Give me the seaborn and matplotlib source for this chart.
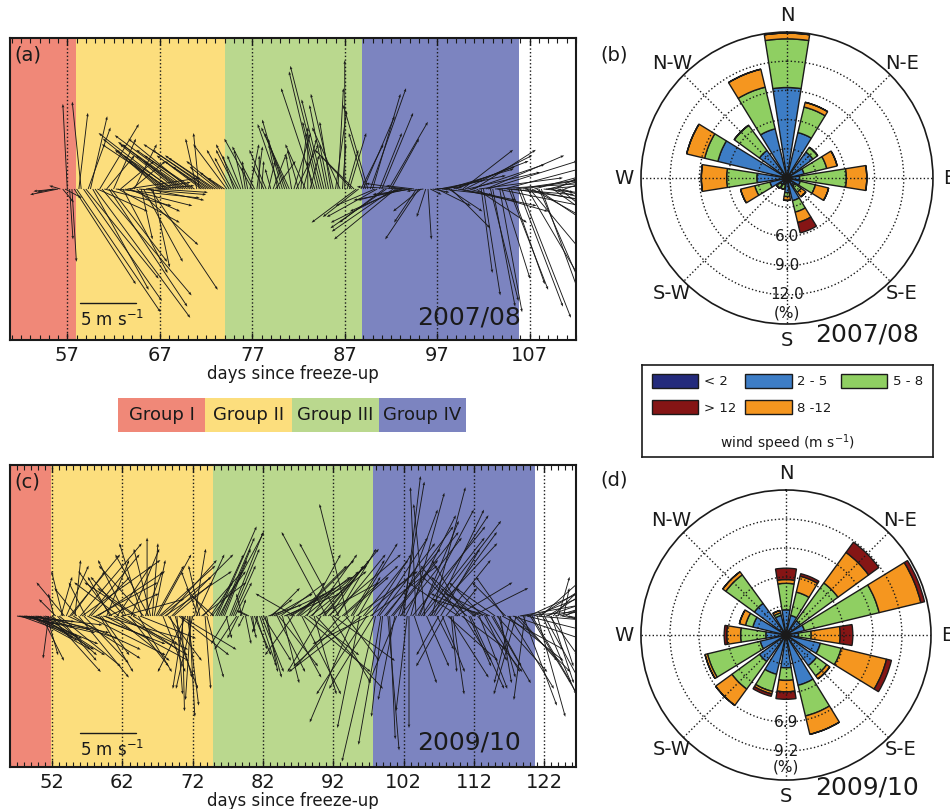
import numpy as np
import seaborn as sns
import matplotlib.pyplot as plt
from matplotlib.patches import Patch
from matplotlib.ticker import MultipleLocator

sns.set_theme(style="white")
plt.rcParams['font.family'] = ['DejaVu Sans']
plt.rcParams.update({'text.color': 'k', 'axes.labelcolor': 'k',
                     'xtick.color': 'k', 'ytick.color': 'k'})

# ---- groups ----
group_names = ["Group I", "Group II", "Group III", "Group IV"]
group_colors = ["#f08878", "#fcde7d", "#bad88e", "#7c84c0"]

# ---- 2007/08 stick data (day, u, v in m/s) ----
edges_a = [50.8, 57.9, 74.0, 88.9, 105.8]
ticks_a = [57, 67, 77, 87, 97, 107]
xlim_a = (50.8, 112.0)
days_a = [55.5, 56.0, 56.5, 57.0, 57.5, 58.0, 58.5, 59.0, 59.5, 60.0,
          60.5, 61.0, 61.5, 62.0, 62.5, 63.0, 63.5, 64.0, 64.5, 65.0,
          65.5, 66.0, 66.5, 67.0, 67.5, 68.0, 68.5, 69.0, 69.5, 70.0,
          70.5, 71.0, 71.5, 72.0, 72.5, 73.0, 73.5, 74.0, 74.5, 75.0,
          75.5, 76.0, 76.5, 77.0, 77.5, 78.0, 78.5, 79.0, 79.5, 80.0,
          80.5, 81.0, 81.5, 82.0, 82.5, 83.0, 83.5, 84.0, 84.5, 85.0,
          85.5, 86.0, 86.5, 87.0, 87.5, 88.0, 88.5, 89.0, 89.5, 90.0,
          90.5, 91.0, 91.5, 92.0, 92.5, 93.0, 93.5, 94.0, 94.5, 95.0,
          95.5, 96.0, 96.5, 97.0, 97.5, 98.0, 98.5, 99.0, 99.5, 100.0,
          100.5, 101.0, 101.5, 102.0, 102.5, 103.0, 103.5, 104.0, 104.5, 105.0,
          105.5, 106.0, 106.5, 107.0, 107.5, 108.0, 108.5, 109.0, 109.5, 110.0,
          110.5]
u_a = [-1.5, -2.5, 1.0, -0.4, 0.4, 7.5, -0.8, 6.5, 1.5, 8.5,
       3.5, 6.0, 7.0, 2.0, 5.5, 4.0, 6.5, 3.0, 5.5, 1.0,
       4.0, 6.0, 3.5, -4.0, -5.5, -6.0, -4.5, -5.0, -3.5, -6.5,
       -5.0, -1.0, -4.0, -3.0, -6.0, -4.5, -3.0, -1.5, -2.0, -1.0,
       -2.0, -0.8, -0.5, -2.5, 0.5, 0.2, -1.5, -0.5, 1.8, -2.0,
       -1.5, -2.5, 1.5, -1.0, 1.2, 0.0, -0.5, -2.5, -2.8, -1.5,
       -1.0, 1.0, -2.5, 0.0, 1.5, -3.5, -3.2, 2.8, -2.2, 2.5,
       -4.5, 2.8, -5.0, 2.5, -5.5, -4.5, -3.5, -5.0, -2.5, -3.0,
       -1.5, 0.3, 1.5, 3.0, 4.5, 6.0, 3.5, 6.5, 5.0, 6.0,
       7.0, 5.5, 7.5, 1.5, 8.0, 2.0, 7.5, 2.5, 6.0, 3.0,
       5.5, 4.5, 6.0, 5.0, 5.5, 3.5, 5.0, 4.0, 3.5, 2.0,
       1.0]
v_a = [-0.3, -0.5, -1.2, 7.6, -6.5, -11.0, 7.8, -8.0, 6.5, -11.5,
       5.8, -1.5, -10.5, 4.5, -3.0, -7.5, 1.0, 2.5, -5.0, -4.5,
       0.6, -9.0, 0.3, 3.5, 4.5, 4.0, 3.0, 4.0, 2.5, 4.8,
       3.5, 4.5, 3.0, 2.0, 4.0, 3.0, 2.5, 1.0, 3.5, 3.0,
       4.0, 3.5, 2.5, 4.5, 3.8, 2.5, 3.5, 1.8, 2.5, 5.8,
       4.5, 5.5, 5.0, 3.5, 4.5, 5.5, 2.5, 10.5, 11.0, 7.5,
       6.0, 7.0, 5.5, 11.5, 5.0, 3.5, -2.5, 6.5, 7.5, 8.5,
       -2.5, 6.8, -3.5, 4.5, -4.5, -2.0, 0.5, -1.0, 0.3, -4.5,
       -0.2, -4.5, -0.3, -1.5, -0.5, 1.8, -3.5, 2.5, -1.0, 3.0,
       -2.0, 3.5, 1.0, -9.5, 2.5, -10.5, -1.5, -8.0, -0.5, -8.5,
       0.8, -11.5, -1.2, -6.0, 1.5, -8.0, -0.5, 1.0, -2.5, -0.5,
       -0.3]
# quarter-day records in between
days_a2 = [55.75, 56.25, 56.75, 57.25, 57.75, 58.25, 58.75, 59.25, 59.75, 60.25,
           60.75, 61.25, 61.75, 62.25, 62.75, 63.25, 63.75, 64.25, 64.75, 65.25,
           65.75, 66.25, 66.75, 67.25, 67.75, 68.25, 68.75, 69.25, 69.75, 70.25,
           70.75, 71.25, 71.75, 72.25, 72.75, 73.25, 73.75, 74.25, 74.75, 75.25,
           75.75, 76.25, 76.75, 77.25, 77.75, 78.25, 78.75, 79.25, 79.75, 80.25,
           80.75, 81.25, 81.75, 82.25, 82.75, 83.25, 83.75, 84.25, 84.75, 85.25,
           85.75, 86.25, 86.75, 87.25, 87.75, 88.25, 88.75, 89.25, 89.75, 90.25,
           90.75, 91.25, 91.75, 92.25, 92.75, 93.25, 93.75, 94.25, 94.75, 95.25,
           95.75, 96.25, 96.75, 97.25, 97.75, 98.25, 98.75, 99.25, 99.75, 100.25,
           100.75, 101.25, 101.75, 102.25, 102.75, 103.25, 103.75, 104.25, 104.75, 105.25,
           105.75, 106.25, 106.75, 107.25, 107.75, 108.25, 108.75, 109.25, 109.75, 110.25,
           110.75]
u_a2 = [-2.0, -1.0, 1.5, 0.3, 5.5, 0.8, 7.0, 2.0, 5.0, 4.5,
        8.0, 2.5, 5.0, 7.5, 3.0, 6.0, 4.5, 2.0, 6.0, 3.5,
        5.0, 1.5, 4.5, -3.0, -4.5, -6.5, -5.0, -4.0, -6.0, -5.5,
        -4.5, -0.5, -3.5, -5.0, -4.0, -2.5, -2.0, -3.0, -1.5, -1.8,
        -1.2, -0.3, 0.8, -2.0, 0.0, -1.0, 0.6, 1.2, -0.8, -1.8,
        -2.0, -0.5, 2.0, 0.5, -1.8, 0.8, -3.0, -1.5, -2.0, -0.8,
        -2.0, 0.5, 0.3, 1.0, -2.8, -4.0, 2.0, -1.5, 3.2, -3.5,
        2.0, -4.0, 3.5, -5.5, -6.0, -4.0, -4.5, -3.5, -2.0, -2.5,
        -0.8, 1.0, 2.5, 4.0, 5.5, 3.0, 5.5, 7.0, 4.5, 6.5,
        6.5, 4.5, 1.0, 7.0, 2.5, 8.0, 2.0, 7.5, 3.5, 6.5,
        4.0, 6.5, 5.0, 4.5, 6.0, 4.0, 5.5, 3.5, 3.0, 2.5,
        1.5]
v_a2 = [-0.2, 0.3, -0.8, -4.5, -8.5, 6.8, -10.0, 5.5, -9.0, -2.0,
        -9.5, 3.0, -6.5, -0.8, 2.5, -1.5, -2.0, 4.0, -0.5, -6.5,
        -1.0, -7.0, -0.3, 2.5, 3.5, 5.0, 4.0, 3.0, 4.2, 4.5,
        3.0, 5.0, 2.5, 3.5, 2.8, 2.0, 1.5, 4.0, 2.8, 3.5,
        3.0, 2.0, 4.0, 3.8, 3.0, 2.0, 2.5, 3.2, 4.0, 6.2,
        5.0, 3.0, 4.0, 5.0, 4.0, 3.0, 9.0, 6.0, 8.0, 4.0,
        8.5, 9.0, 4.0, 3.5, 3.0, -3.0, 4.0, 5.0, 9.0, -1.5,
        5.0, -3.0, 6.0, -3.8, -3.0, -1.0, 0.2, -0.5, -3.0, -2.0,
        -2.5, -0.5, 0.2, 0.8, 1.2, -2.0, 2.0, -1.5, 3.5, 1.5,
        2.2, -3.0, -7.5, 3.0, -10.0, 0.5, -11.0, 2.0, -9.0, -1.0,
        -10.5, 1.0, -8.5, -2.5, -4.0, -11.0, 0.5, -1.0, 1.5, -2.0,
        0.5]

# ---- 2009/10 stick data ----
edges_c = [46.0, 51.8, 74.9, 97.7, 120.6]
ticks_c = [52, 62, 72, 82, 92, 102, 112, 122]
xlim_c = (46.0, 126.5)
days_c = [47.0, 47.5, 48.0, 48.5, 49.0, 49.5, 50.0, 50.5, 51.0, 51.5,
          52.0, 52.5, 53.0, 53.5, 54.0, 54.5, 55.0, 55.5, 56.0, 56.5,
          57.0, 57.5, 58.0, 58.5, 59.0, 59.5, 60.0, 60.5, 61.0, 61.5,
          62.0, 62.5, 63.0, 63.5, 64.0, 64.5, 65.0, 65.5, 66.0, 66.5,
          67.0, 67.5, 68.0, 68.5, 69.0, 69.5, 70.0, 70.5, 71.0, 71.5,
          72.0, 72.5, 73.0, 73.5, 74.0, 74.5, 75.0, 75.5, 76.0, 76.5,
          77.0, 77.5, 78.0, 78.5, 79.0, 79.5, 80.0, 80.5, 81.0, 81.5,
          82.0, 82.5, 83.0, 83.5, 84.0, 84.5, 85.0, 85.5, 86.0, 86.5,
          87.0, 87.5, 88.0, 88.5, 89.0, 89.5, 90.0, 90.5, 91.0, 91.5,
          92.0, 92.5, 93.0, 93.5, 94.0, 94.5, 95.0, 95.5, 96.0, 96.5,
          97.0, 97.5, 98.0, 98.5, 99.0, 99.5, 100.0, 100.5, 101.0, 101.5,
          102.0, 102.5, 103.0, 103.5, 104.0, 104.5, 105.0, 105.5, 106.0, 106.5,
          107.0, 107.5, 108.0, 108.5, 109.0, 109.5, 110.0, 110.5, 111.0, 111.5,
          112.0, 112.5, 113.0, 113.5, 114.0, 114.5, 115.0, 115.5, 116.0, 116.5,
          117.0, 117.5, 118.0, 118.5, 119.0, 119.5, 120.0, 120.5, 121.0, 121.5,
          122.0, 122.5, 123.0, 123.5, 124.0, 124.5, 125.0, 125.5]
u_c = [6.5, 5.5, 7.0, 4.5, 6.0, 3.5, 5.0, 2.0, 6.5, -0.5,
       4.0, -1.5, 5.5, -1.0, 2.0, 4.5, 6.0, -2.0, 5.5, 4.0,
       7.0, 3.5, 5.0, 6.0, 2.5, 7.5, 4.5, -3.0, 6.5, -4.0,
       5.5, -2.5, 3.5, 4.0, -3.5, 5.0, -4.0, 0.0, -1.5, 1.0,
       3.0, 4.5, 6.0, 3.0, 5.5, 1.5, 4.5, 0.2, -2.5, 0.5,
       -1.5, 2.5, -1.0, 3.5, 1.5, 2.0, -2.0, 3.5, 3.0, 2.0,
       -1.5, 2.5, 1.5, -1.0, -0.5, 0.5, -1.0, 0.2, 1.0, 1.5,
       2.5, 1.0, 2.0, 3.5, 2.5, 4.0, 5.0, 3.0, 5.5, -3.5,
       5.0, 3.5, 5.5, 4.5, 4.0, 6.0, 3.5, 5.0, -4.0, 3.0,
       5.5, 3.5, -4.0, 4.0, -2.5, 3.0, -4.0, 2.0, -6.5, 4.5,
       -5.0, 3.5, -3.0, 5.0, -1.0, 6.0, 0.5, 4.0, -2.5, 5.5,
       1.5, -1.0, 3.0, 2.0, 5.0, 6.0, -1.0, 6.5, 3.0, 5.5,
       -2.0, 2.0, 4.0, 3.5, 1.0, 5.0, -3.5, 2.5, -4.0, 3.0,
       -3.0, 4.0, -4.5, 2.0, -5.0, 3.5, -3.5, 1.5, 5.5, -3.0,
       4.0, 6.0, -2.0, 5.5, 3.0, 6.0, 4.5, 5.0, 2.5, 4.5,
       3.0, 4.0, 2.0, 3.5, 1.0, 2.5, 1.5, 0.8]
v_c = [-1.2, -2.0, -0.8, -1.8, -2.5, -1.0, -3.0, -4.0, -2.0, -3.8,
       -3.5, 1.5, -4.5, 4.0, 4.5, 5.5, -3.8, 2.5, 6.5, -4.2,
       -3.5, 3.5, -2.0, 4.0, -3.5, -4.0, 2.0, 4.0, -3.0, 3.0,
       1.5, 5.0, -4.5, -2.5, 2.5, -2.0, 4.5, 7.0, 6.0, 5.0,
       5.5, 3.5, 4.0, -4.0, 5.5, -5.5, -3.5, -8.5, -5.0, -9.0,
       -6.5, 5.5, 4.5, 4.0, -5.5, 3.0, 1.8, 8.0, 7.0, 5.0,
       -2.5, 6.0, 3.0, -2.0, 2.0, -2.5, 0.5, -1.5, -3.0, -4.5,
       -4.0, -5.0, 1.5, 2.0, -5.0, 3.0, 2.0, -5.5, 3.5, 2.0,
       5.0, -7.0, 4.5, -3.5, 5.5, -6.5, 4.0, 6.0, 7.5, 4.5,
       -4.0, 6.0, -4.5, 3.5, 10.0, 5.0, -9.5, 3.5, -5.0, 4.0,
       -2.5, 5.5, -13.0, 6.5, -9.0, 8.0, -11.0, 5.0, -6.0, 7.0,
       12.5, -8.5, 11.0, -6.0, 9.5, 9.0, 10.0, 8.5, 11.5, 7.5,
       -3.5, -5.0, 5.0, -5.5, -7.0, 3.0, 4.5, -4.0, 3.5, -6.5,
       2.5, -5.0, 2.0, -4.0, 1.5, -6.0, 2.5, -5.5, -3.0, 3.0,
       -6.5, -2.0, -7.0, 1.0, -8.0, -1.5, -7.5, 2.0, -9.0, 4.0,
       -5.5, 2.5, -6.0, 1.0, 3.5, -0.5, 0.8, -0.2]
days_c2 = [47.25, 47.75, 48.25, 48.75, 49.25, 49.75, 50.25, 50.75, 51.25, 51.75,
           52.25, 52.75, 53.25, 53.75, 54.25, 54.75, 55.25, 55.75, 56.25, 56.75,
           57.25, 57.75, 58.25, 58.75, 59.25, 59.75, 60.25, 60.75, 61.25, 61.75,
           62.25, 62.75, 63.25, 63.75, 64.25, 64.75, 65.25, 65.75, 66.25, 66.75,
           67.25, 67.75, 68.25, 68.75, 69.25, 69.75, 70.25, 70.75, 71.25, 71.75,
           72.25, 72.75, 73.25, 73.75, 74.25, 74.75, 75.25, 75.75, 76.25, 76.75,
           77.25, 77.75, 78.25, 78.75, 79.25, 79.75, 80.25, 80.75, 81.25, 81.75,
           82.25, 82.75, 83.25, 83.75, 84.25, 84.75, 85.25, 85.75, 86.25, 86.75,
           87.25, 87.75, 88.25, 88.75, 89.25, 89.75, 90.25, 90.75, 91.25, 91.75,
           92.25, 92.75, 93.25, 93.75, 94.25, 94.75, 95.25, 95.75, 96.25, 96.75,
           97.25, 97.75, 98.25, 98.75, 99.25, 99.75, 100.25, 100.75, 101.25, 101.75,
           102.25, 102.75, 103.25, 103.75, 104.25, 104.75, 105.25, 105.75, 106.25, 106.75,
           107.25, 107.75, 108.25, 108.75, 109.25, 109.75, 110.25, 110.75, 111.25, 111.75,
           112.25, 112.75, 113.25, 113.75, 114.25, 114.75, 115.25, 115.75, 116.25, 116.75,
           117.25, 117.75, 118.25, 118.75, 119.25, 119.75, 120.25, 120.75, 121.25, 121.75,
           122.25, 122.75, 123.25, 123.75, 124.25, 124.75, 125.25]
u_c2 = [5.0, 6.5, 3.0, 5.5, 4.0, 6.5, 3.0, 5.5, 1.0, 4.5,
        -0.5, 3.5, 1.0, -2.5, 6.5, 3.0, 0.5, 4.5, 7.0, -1.5,
        4.5, 6.5, 5.5, 3.0, 7.0, 2.0, -2.0, 5.0, 3.0, 6.0,
        -3.0, 4.5, 2.5, -4.5, 3.0, -2.0, 1.5, -3.0, 0.5, 2.5,
        5.0, 2.0, 4.5, 2.5, 3.5, 0.5, 5.0, -1.0, 1.0, -0.5,
        1.0, -1.5, 4.0, 0.5, -2.0, 3.0, 2.5, 4.0, 2.5, 0.5,
        3.0, 2.0, -2.0, 0.5, -0.5, -1.0, 0.5, 1.5, -0.5, 2.0,
        1.5, 3.0, 2.5, 4.5, 3.5, 1.5, 6.0, 4.0, -2.5, 4.5,
        4.5, 6.0, 3.0, 5.0, 2.0, 5.5, -3.0, 4.0, 6.5, 3.5,
        4.5, -3.5, 5.0, 3.0, -5.0, 4.0, 5.5, -2.0, 4.0, -4.5,
        6.0, -4.0, 4.5, -2.0, 5.0, 1.0, 6.0, -1.5, 3.5, 2.0,
        4.5, 0.0, 6.5, -0.5, 3.5, 5.5, 2.0, 6.0, 4.5, 1.5,
        3.5, -2.5, 4.5, 0.5, 2.0, -4.5, 4.0, -3.0, 2.0, 5.0,
        -4.0, 2.5, -3.0, 3.0, -4.0, 2.5, 4.5, 1.0, -2.5, 5.0,
        -1.5, 5.0, 3.5, 6.5, -1.0, 5.5, 3.5, 6.0, 4.0, 3.0,
        4.5, 2.5, 3.0, 1.5, 2.0, 0.5, 1.0]
v_c2 = [-0.5, -1.5, -0.8, -3.0, -2.2, -1.5, -2.0, -3.5, -3.5, -5.0,
        2.0, -4.0, 3.5, 3.0, -3.0, 4.0, 5.0, -5.5, 5.0, 3.0,
        5.5, -2.5, 3.0, -5.0, -2.0, 5.0, 3.5, -4.0, 4.5, -3.5,
        3.5, -3.0, 6.0, 3.0, -5.0, 6.5, 4.0, 5.5, 6.5, 4.5,
        4.5, -5.0, 5.0, -6.5, 3.0, -7.0, -3.0, -6.5, -8.0, -7.5,
        6.0, 4.0, 3.0, -6.5, 2.5, 4.0, 5.5, 7.5, 6.0, -2.0,
        7.5, 4.5, -3.0, 1.5, -1.0, 0.5, -2.0, -3.5, -1.5, -5.0,
        -5.5, 1.0, 2.5, 2.0, -4.5, -6.0, 3.0, 2.5, -3.5, 4.5,
        3.5, -5.0, 5.5, 4.0, -7.0, 3.0, -5.0, 5.0, 5.5, -6.0,
        5.5, 6.5, 4.5, -4.0, -4.5, 6.5, 4.0, -10.0, 5.0, -7.0,
        4.5, -6.5, 7.0, -11.5, 6.0, -12.0, 7.5, -7.5, 9.5, 12.0,
        9.0, -10.0, 8.0, 11.5, 8.5, 7.0, -4.5, 6.5, 9.5, -3.0,
        6.0, -4.5, -4.0, -5.0, 2.5, 3.0, -3.0, 5.0, -4.5, 2.5,
        3.5, -6.5, 3.0, -5.0, 2.0, -4.5, -5.0, -6.0, 3.5, -4.0,
        -6.0, -5.0, -4.0, 0.5, -7.5, 2.5, -6.0, -0.5, 2.5, -7.0,
        1.5, -3.5, 3.0, -4.5, 0.5, 2.5, -0.3]

# ---- wind roses: % per direction and speed bin ----
dir_angles = [0, 22.5, 45, 67.5, 90, 112.5, 135, 157.5,
              180, 202.5, 225, 247.5, 270, 292.5, 315, 337.5]
speed_bins = ["< 2", "2 - 5", "5 - 8", "8 -12", "> 12"]
speed_colors = ["#232a7c", "#3d7dc6", "#8fcf62", "#f5961f", "#851515"]

rose_b = {
    "< 2":   [0.3, 0.2, 0.2, 0.2, 0.2, 0.2, 0.2, 0.3, 0.2, 0.2, 0.2, 0.2, 0.3, 0.5, 0.3, 0.3],
    "2 - 5": [9.0, 4.6, 3.1, 1.6, 1.1, 1.2, 0.8, 2.1, 1.3, 0.5, 0.6, 1.6, 2.8, 6.8, 3.2, 4.9],
    "5 - 8": [5.0, 2.7, 0.6, 2.4, 4.8, 1.6, 0.8, 1.2, 0.4, 0.5, 0.5, 1.6, 3.1, 1.4, 3.2, 4.4],
    "8 -12": [0.6, 0.5, 0.0, 1.1, 2.1, 1.4, 0.6, 1.1, 0.4, 0.0, 0.0, 1.5, 2.6, 1.9, 0.0, 1.9],
    "> 12":  [0.0, 0.0, 0.0, 0.0, 0.0, 0.0, 0.0, 1.1, 0.0, 0.0, 0.0, 0.0, 0.0, 0.0, 0.0, 0.0],
}
rose_d = {
    "< 2":   [0.2] * 16,
    "2 - 5": [1.8, 1.4, 1.2, 1.3, 0.8, 2.6, 2.8, 3.9, 2.4, 3.0, 2.4, 1.9, 1.4, 2.5, 2.9, 1.4],
    "5 - 8": [2.1, 1.9, 3.7, 6.1, 1.0, 1.7, 1.0, 2.5, 1.0, 1.4, 2.7, 4.3, 2.0, 0.6, 2.8, 0.2],
    "8 -12": [0.3, 1.3, 3.0, 3.4, 2.3, 3.7, 0.3, 1.5, 0.9, 0.2, 1.6, 0.2, 1.1, 0.5, 0.3, 0.2],
    "> 12":  [0.9, 0.2, 1.0, 0.3, 1.0, 0.4, 0.0, 0.0, 0.6, 0.2, 0.0, 0.0, 0.2, 0.0, 0.0, 0.0],
}
rticks_b = [3.0, 6.0, 9.0, 12.0]
rlabels_b = ["", "6.0", "9.0", "12.0"]
rticks_d = [2.3, 4.6, 6.9, 9.2]
rlabels_d = ["", "", "6.9", "9.2"]

compass = ["N", "N-E", "E", "S-E", "S", "S-W", "W", "N-W"]

QSCALE = 8.93  # m/s per inch

fig = plt.figure(figsize=(9.5, 8.09), dpi=100)


def stick_panel(rect, days, u, v, edges, ticks, xlim, tag, year, bar_y, txt_y, year_y):
    ax = fig.add_axes(rect)
    for i in range(4):
        ax.axvspan(edges[i], edges[i + 1], color=group_colors[i], lw=0, zorder=0)
    ax.quiver(days, np.zeros(len(days)), u, v, angles='uv', scale_units='inches',
              scale=QSCALE, width=0.0016, headwidth=3, headlength=4,
              headaxislength=3.5, color='k', zorder=3)
    ax.set_xlim(*xlim)
    ax.set_ylim(-1, 1)
    ax.set_yticks([])
    ax.set_xticks(ticks)
    ax.xaxis.set_minor_locator(MultipleLocator(1))
    ax.tick_params(axis='x', which='both', direction='in', top=True, bottom=True,
                   color='k', labelsize=14, pad=4)
    ax.tick_params(axis='x', which='major', length=5, width=1)
    ax.tick_params(axis='x', which='minor', length=3.5, width=0.8)
    ax.grid(axis='x', ls=':', color='k', lw=1)
    for s in ax.spines.values():
        s.set_color('k')
        s.set_linewidth(1.5)
    ax.set_xlabel("days since freeze-up", fontsize=12, labelpad=0)
    ax.text(0.008, 0.975, tag, transform=ax.transAxes, fontsize=14, va='top', ha='left')
    ax.text(0.902, year_y, year, transform=ax.transAxes, fontsize=18, va='center', ha='right')
    # 5 m/s scale bar
    ax_w_in = ax.get_position().width * fig.get_figwidth()
    length = 5 / QSCALE / ax_w_in
    ax.plot([0.123, 0.123 + length], [bar_y, bar_y], color='k', lw=1,
            transform=ax.transAxes, zorder=4)
    ax.text(0.123, txt_y, "5 m s$^{-1}$", transform=ax.transAxes, fontsize=12,
            va='center', ha='left')
    return ax


stick_panel([0.0105, 0.5797, 0.5958, 0.3733], days_a + days_a2, u_a + u_a2, v_a + v_a2,
            edges_a, ticks_a, xlim_a, "(a)", "2007/08", 0.122, 0.066, 0.073)
stick_panel([0.0105, 0.0519, 0.5958, 0.3733], days_c + days_c2, u_c + u_c2, v_c + v_c2,
            edges_c, ticks_c, xlim_c, "(c)", "2009/10", 0.113, 0.056, 0.08)

# group legend bar
axg = fig.add_axes([0.1242, 0.466, 0.3663, 0.042])
sns.barplot(x=group_names, y=[1, 1, 1, 1], hue=group_names, palette=group_colors,
            saturation=1, width=1.0, legend=False, ax=axg, linewidth=0)
for i, name in enumerate(group_names):
    axg.text(i, 0.5, name, ha='center', va='center', fontsize=13)
axg.set_xlim(-0.5, 3.5)
axg.set_ylim(0, 1)
axg.axis('off')


def rose_panel(rect, data, rmax, rticks, rlabels, pct_r, tag, tag_y, year, year_y):
    ax = fig.add_axes(rect, projection='polar')
    ax.set_theta_zero_location('N')
    ax.set_theta_direction(-1)
    theta = np.deg2rad(dir_angles)
    width = np.deg2rad(22.5) * 0.8
    bottom = np.zeros(len(dir_angles))
    for name, col in zip(speed_bins, speed_colors):
        vals = np.array(data[name])
        ax.bar(theta, vals, width=width, bottom=bottom, color=col, edgecolor='k',
               linewidth=1, zorder=2)
        bottom = bottom + vals
    ax.set_ylim(0, rmax)
    ax.set_axisbelow(False)
    ax.set_thetagrids([0, 45, 90, 135, 180, 225, 270, 315], compass, fontsize=14)
    ax.set_rgrids(rticks, labels=[""] * len(rticks), angle=180)
    for r, lab in zip(rticks, rlabels):
        ax.text(np.pi, r, lab, ha='center', va='center', fontsize=11, zorder=5)
    ax.grid(True, ls=':', color='k', lw=1)
    ax.tick_params(axis='x', pad=-1)
    ax.spines['polar'].set_color('k')
    ax.spines['polar'].set_linewidth(1.2)
    ax.text(np.pi, pct_r, "(%)", ha='center', va='center', fontsize=11)
    fig.text(0.6315, tag_y, tag, fontsize=14, ha='left', va='center')
    fig.text(0.913, year_y, year, fontsize=18, ha='center', va='center')
    return ax


rose_panel([0.6747, 0.5995, 0.3074, 0.3609], rose_b, 15.0, rticks_b, rlabels_b, 13.9,
           "(b)", 0.932, "2007/08", 0.586)
rose_panel([0.6747, 0.0358, 0.3053, 0.3585], rose_d, 11.5, rticks_d, rlabels_d, 10.5,
           "(d)", 0.407, "2009/10", 0.026)

# wind speed legend box
axl = fig.add_axes([0.6758, 0.4351, 0.3063, 0.1137])
axl.set_xticks([])
axl.set_yticks([])
for s in axl.spines.values():
    s.set_color('k')
    s.set_linewidth(1.2)
handles = {n: Patch(facecolor=c, edgecolor='k', label=n) for n, c in zip(speed_bins, speed_colors)}
order = ["< 2", "> 12", "2 - 5", "8 -12", "5 - 8"]
axl.legend(handles=[handles[n] for n in order], ncol=3, loc='upper center',
           bbox_to_anchor=(0.5, 1.0), frameon=False, fontsize=9.5, handlelength=3.5,
           handleheight=1.2, handletextpad=0.45, columnspacing=0.7, labelspacing=0.9,
           borderaxespad=0.3)
axl.text(0.5, 0.15, "wind speed (m s$^{-1}$)", transform=axl.transAxes, ha='center',
         va='center', fontsize=10)

fig.savefig("out.png", dpi=100)
